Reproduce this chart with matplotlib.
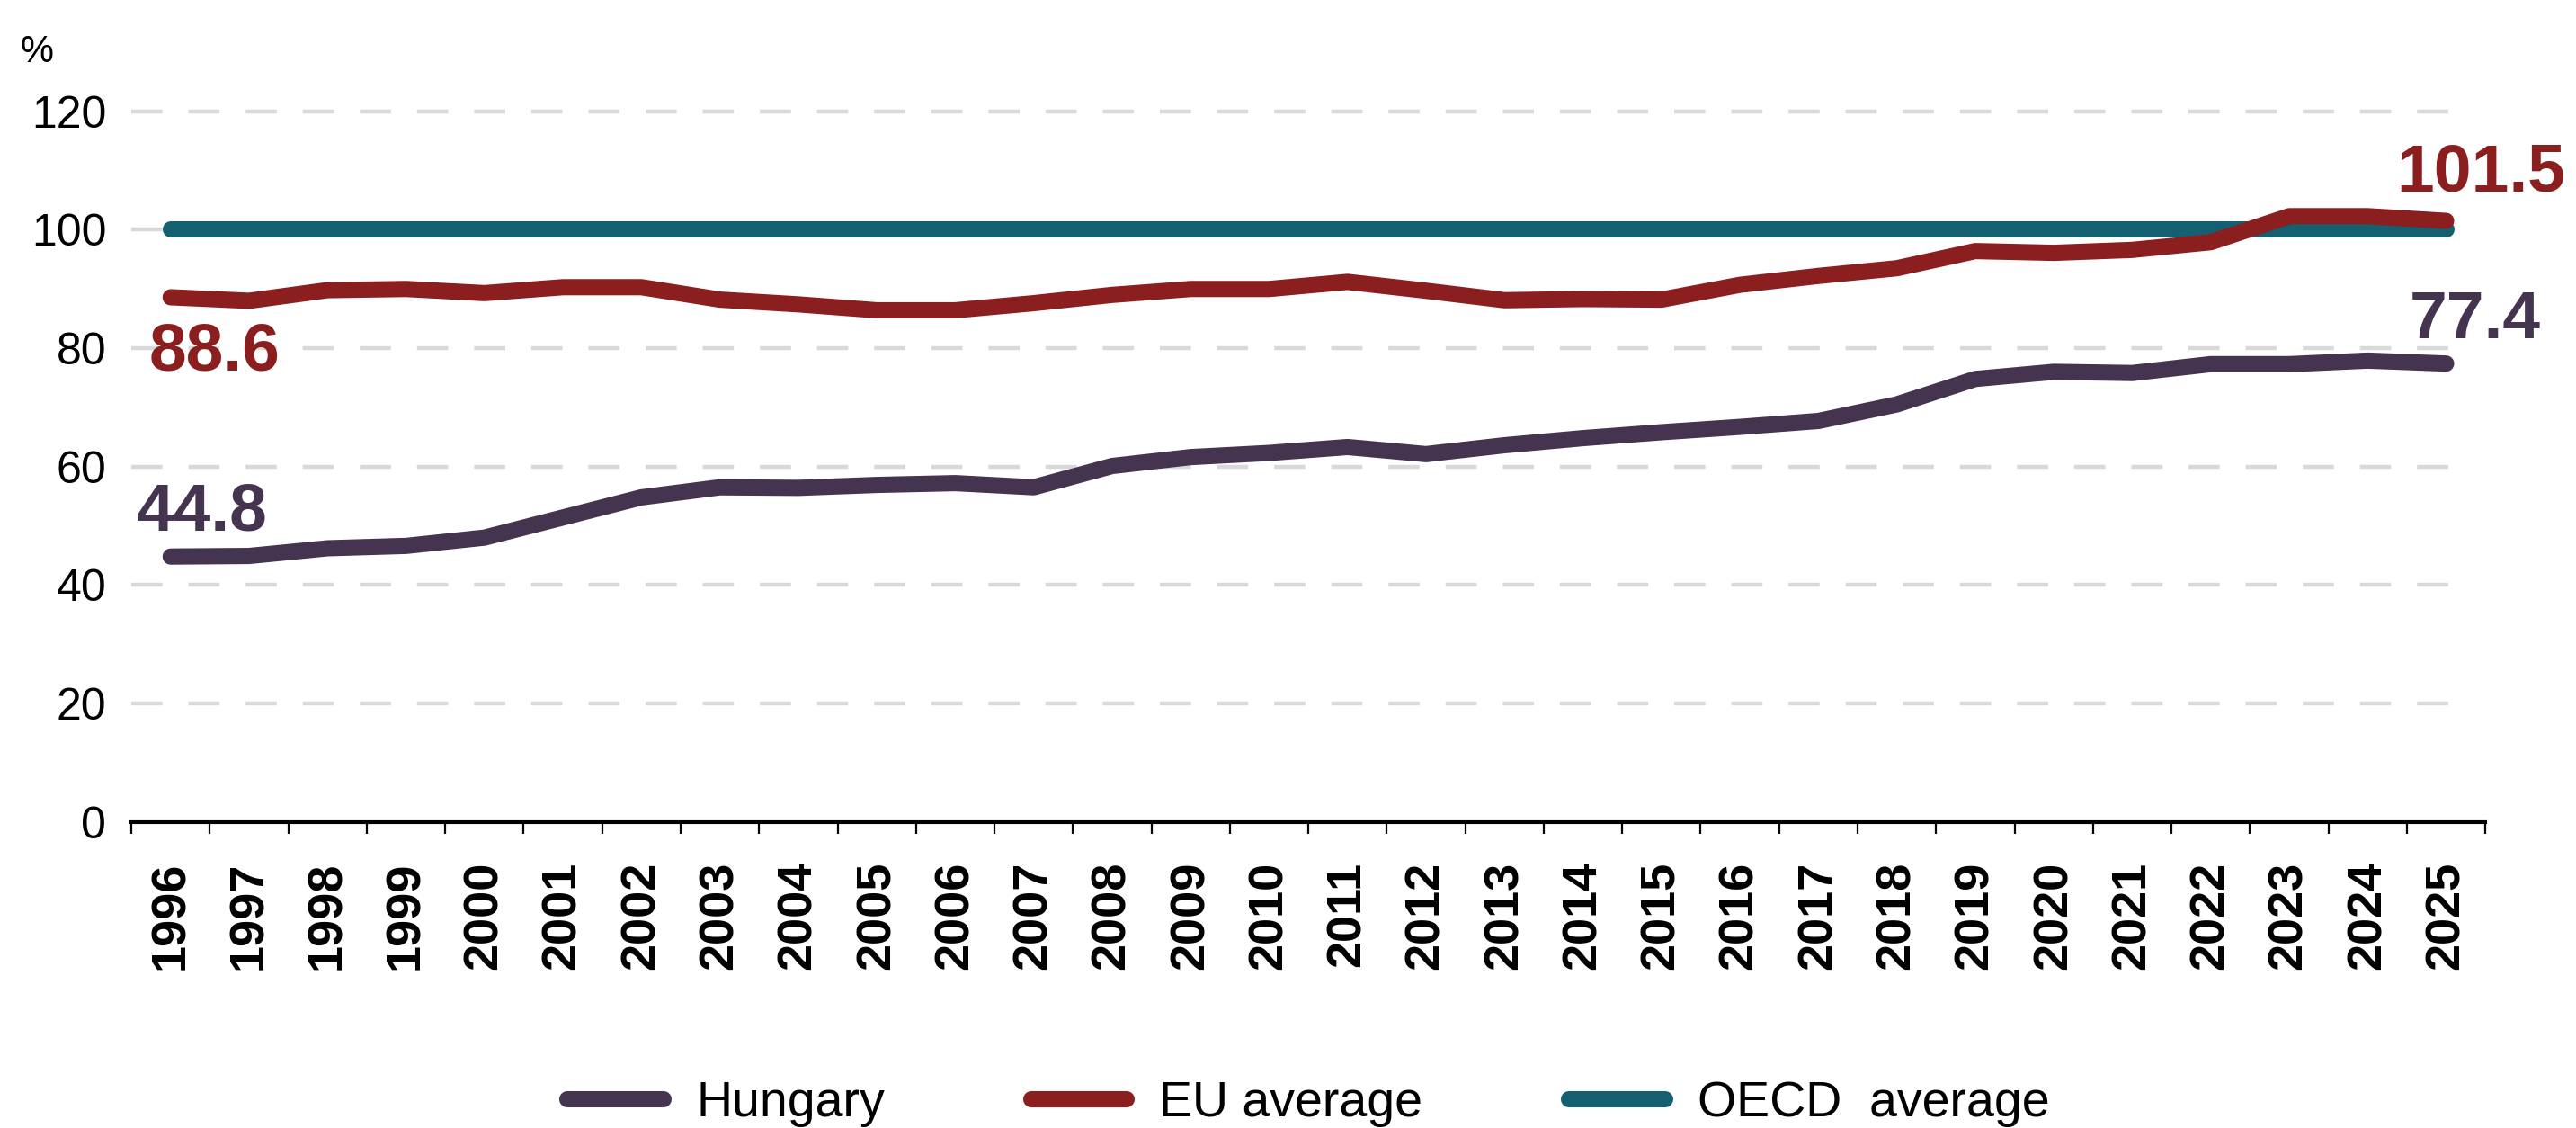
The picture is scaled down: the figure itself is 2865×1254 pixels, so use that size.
import matplotlib
matplotlib.use("Agg")
import matplotlib.pyplot as plt
from matplotlib.ticker import FixedLocator

years = [str(y) for y in range(1996, 2026)]
hungary = [44.8, 44.9, 46.2, 46.6, 48.0, 51.4, 54.8, 56.5, 56.4, 56.9,
           57.2, 56.5, 60.1, 61.6, 62.3, 63.3, 62.1, 63.6, 64.8, 65.8,
           66.7, 67.7, 70.5, 74.8, 76.0, 75.8, 77.3, 77.3, 77.9, 77.4]
eu_avg = [88.6, 88.0, 89.8, 90.0, 89.3, 90.3, 90.3, 88.2, 87.4, 86.4,
          86.4, 87.6, 89.0, 90.0, 90.0, 91.2, 89.7, 88.1, 88.3, 88.2,
          90.7, 92.2, 93.5, 96.4, 96.1, 96.6, 97.9, 102.3, 102.3, 101.5]
oecd_avg = [100, 100, 100, 100, 100, 100, 100, 100, 100, 100,
            100, 100, 100, 100, 100, 100, 100, 100, 100, 100,
            100, 100, 100, 100, 100, 100, 100, 100, 100, 100]
y_ticks = [0, 20, 40, 60, 80, 100, 120]

C_HU = "#44344f"
C_EU = "#8b1e1f"
C_OECD = "#156070"

plt.rcParams["font.family"] = ["Liberation Sans", "DejaVu Sans"]

fig = plt.figure(figsize=(28.65, 12.54), dpi=100)
ax = fig.add_axes([0.051, 0.2715, 0.9138, 0.656])

x = list(range(len(years)))
lw = 13
ax.plot(x, oecd_avg, color=C_OECD, lw=lw, solid_capstyle="round", zorder=3, label="OECD  average")
ax.plot(x, eu_avg, color=C_EU, lw=lw, solid_capstyle="round", zorder=4, label="EU average")
ax.plot(x, hungary, color=C_HU, lw=lw, solid_capstyle="round", zorder=5, label="Hungary")

ax.set_xlim(-0.5, len(years) - 0.5)
ax.set_ylim(0, 125)
ax.set_yticks(y_ticks)
ax.set_yticklabels([str(v) for v in y_ticks], fontsize=36)
ax.tick_params(axis="y", length=0, pad=20)

ax.set_xticks(x)
ax.set_xticklabels(years, rotation=90, fontsize=39, fontweight="bold")
ax.tick_params(axis="x", which="major", length=0, pad=32)
ax.xaxis.set_minor_locator(FixedLocator([i - 0.5 for i in range(len(years) + 1)]))
ax.tick_params(axis="x", which="minor", length=9.5, width=1.6, color="black")

# dashed grid, stops a little short of the right end
for v in y_ticks[1:]:
    ax.axhline(v, xmax=0.99, color="#d9d9d9", lw=3.2, dashes=(7.8, 6.5), zorder=1)

for s in ["left", "right", "top"]:
    ax.spines[s].set_visible(False)
ax.spines["bottom"].set_linewidth(3)

# end labels
ax.annotate("44.8", xy=(0, hungary[0]), xytext=(-38, 29), textcoords="offset pixels",
            fontsize=54, fontweight="bold", color=C_HU, va="baseline", ha="left")
ax.annotate("88.6", xy=(0, eu_avg[0]), xytext=(-24, -81), textcoords="offset pixels",
            fontsize=54, fontweight="bold", color=C_EU, va="baseline", ha="left")
ax.annotate("101.5", xy=(x[-1], eu_avg[-1]), xytext=(-55, 33), textcoords="offset pixels",
            fontsize=54, fontweight="bold", color=C_EU, va="baseline", ha="left",
            annotation_clip=False)
ax.annotate("77.4", xy=(x[-1], hungary[-1]), xytext=(-41, 28), textcoords="offset pixels",
            fontsize=54, fontweight="bold", color=C_HU, va="baseline", ha="left",
            annotation_clip=False)

fig.text(23 / 2865, 1 - 69 / 1254, "%", fontsize=30, va="baseline", ha="left")

handles, labels = ax.get_legend_handles_labels()
order = [2, 1, 0]
fig.legend([handles[i] for i in order], [labels[i] for i in order],
           loc="center", bbox_to_anchor=(0.508, 1 - 1227 / 1254), ncol=3,
           frameon=False, fontsize=40, handlelength=1.92, handletextpad=0.65,
           columnspacing=2.93)

fig.savefig("out.png", dpi=100)
